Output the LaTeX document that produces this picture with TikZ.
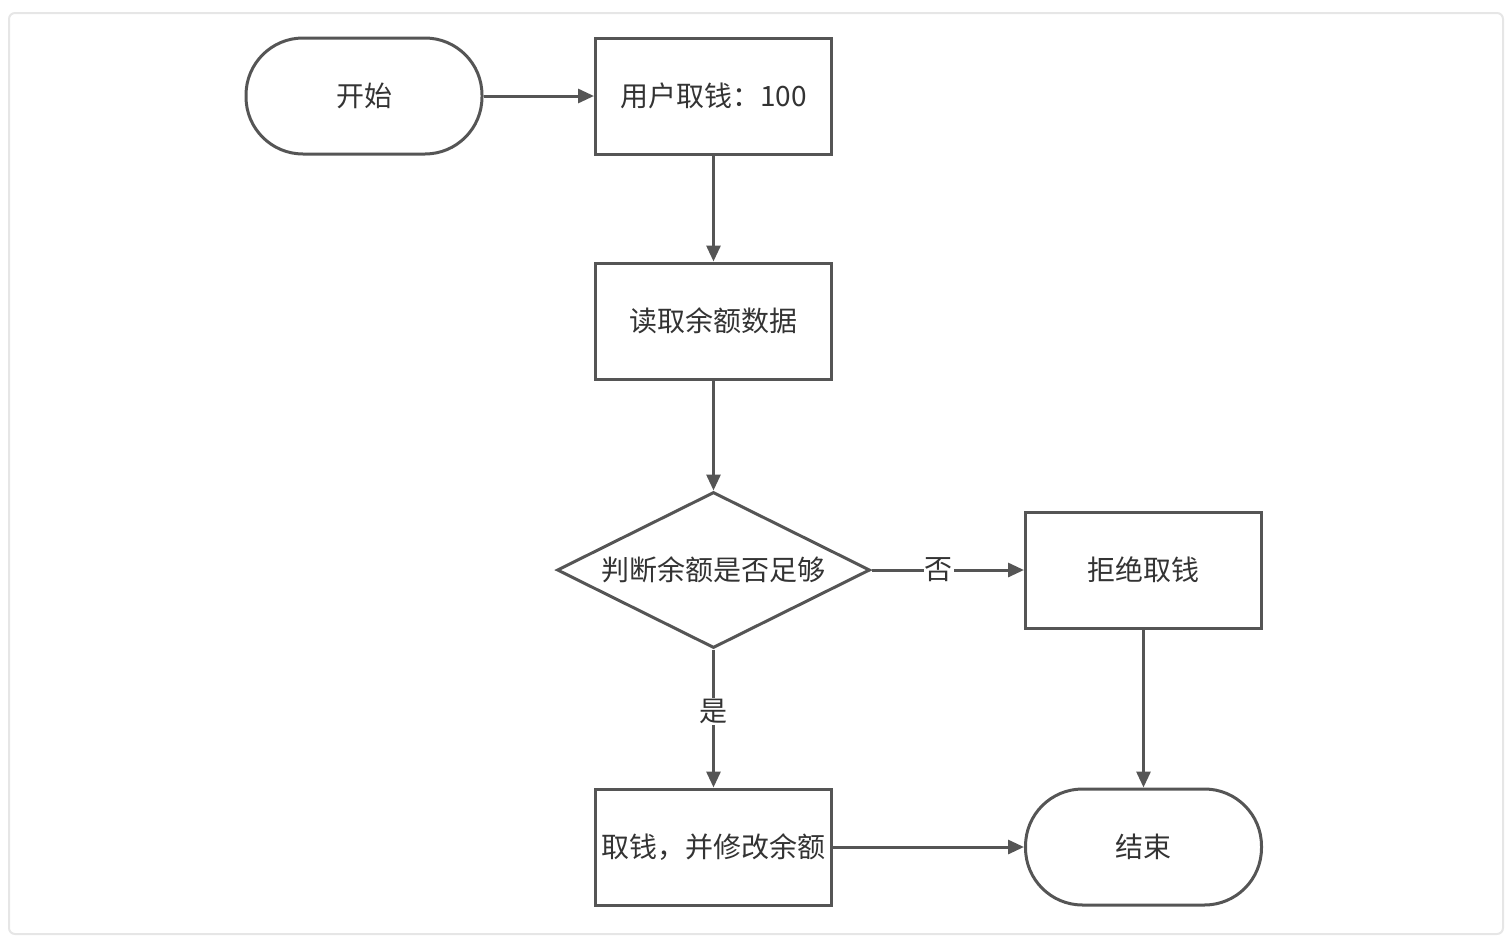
\documentclass[tikz,border=0pt]{standalone}
\usepackage{fontspec}
\setmainfont{Noto Sans CJK SC}
\usetikzlibrary{arrows.meta,shapes.geometric}
\definecolor{ln}{HTML}{555555}
\definecolor{tx}{HTML}{333333}
\definecolor{fr}{HTML}{E6E6E6}
\tikzset{
  base/.style={draw=ln, line width=3pt, text=tx, font=\fontsize{28}{33}\selectfont, inner sep=0pt},
  procbox/.style={base, rectangle, minimum width=236pt, minimum height=116pt},
  termbox/.style={base, rectangle, rounded corners=57pt, minimum width=236pt, minimum height=116pt},
  decbox/.style={base, diamond, minimum width=313pt, minimum height=156pt, aspect=2},
  conn/.style={draw=ln, line width=3pt, -{Triangle[length=16pt,width=14pt]}},
  lbl/.style={fill=white, text=tx, font=\fontsize{28}{33}\selectfont, inner sep=1pt}
}
\begin{document}
\begin{tikzpicture}[x=1pt,y=-1pt]
\useasboundingbox (0,0) rectangle (1510,940);
\draw[fr, line width=2pt, rounded corners=6pt] (9,13) rectangle (1503,934);
\node[termbox] (start) at (364,96) {开始};
\node[procbox] (take) at (713.5,96) {用户取钱：100};
\node[procbox] (read) at (713.5,321) {读取余额数据};
\node[decbox] (dec) at (713.5,570) {判断余额是否足够};
\node[procbox] (rej) at (1143.5,570) {拒绝取钱};
\node[procbox] (upd) at (713.5,847) {取钱，并修改余额};
\node[termbox] (end) at (1143.5,847) {结束};
\draw[conn] (start) -- (take);
\draw[conn] (take) -- (read);
\draw[conn] (read) -- (dec);
\draw[conn] (dec) -- node[lbl, pos=0.44] {否} (rej);
\draw[conn] (dec) -- node[lbl, pos=0.45] {是} (upd);
\draw[conn] (rej) -- (end);
\draw[conn] (upd) -- (end);
\end{tikzpicture}
\end{document}
